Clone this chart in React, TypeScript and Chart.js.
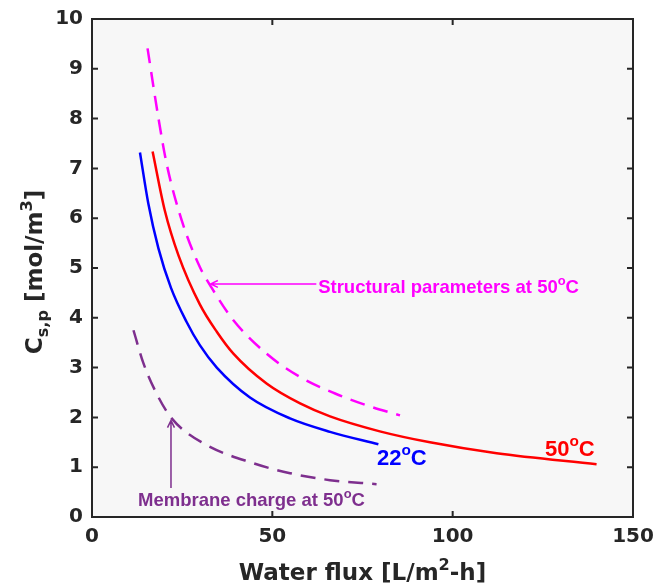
import React, { useEffect, useRef } from "react";
import { Chart, registerables } from "chart.js";
Chart.register(...registerables);

// ---- data ----
const blueX = [13.3, 15.6, 18.4, 21.9, 26.2, 29.9, 34.6, 43.8, 54.9, 66.0, 79.4];
const blueY = [7.32, 6.3, 5.4, 4.6, 3.92, 3.45, 3.0, 2.4, 1.98, 1.71, 1.46];

const redX = [16.8, 20.2, 24.0, 29.9, 34.6, 39.2, 48.4, 57.7, 66.0, 79.8, 93.7, 112.2, 139.9];
const redY = [7.34, 6.15, 5.25, 4.27, 3.72, 3.28, 2.68, 2.28, 2.02, 1.72, 1.5, 1.28, 1.06];

const magX = [15.4, 18.4, 20.7, 24.9, 29.9, 33.2, 39.2, 48.4, 57.7, 67.4, 77.1, 85.4];
const magY = [9.41, 8.02, 7.09, 5.95, 5.02, 4.6, 3.95, 3.28, 2.81, 2.48, 2.22, 2.04];

const purX = [11.5, 14.2, 17.9, 22.1, 30.9, 44.7, 54.9, 66.0, 78.9];
const purY = [3.75, 3.1, 2.48, 1.98, 1.48, 1.08, 0.88, 0.74, 0.66];

const xTicks = [0, 50, 100, 150];
const yTicks = [0, 1, 2, 3, 4, 5, 6, 7, 8, 9, 10];

const xTitle = [{ t: "Water flux [L/m" }, { t: "2", k: "sup" }, { t: "-h]" }];
const yTitle = [{ t: "C" }, { t: "s,p", k: "sub" }, { t: " [mol/m" }, { t: "3", k: "sup" }, { t: "]" }];

const AXIS = "#262626";
const BLUE = "#0000ff";
const RED = "#ff0000";
const MAGENTA = "#ff00ff";
const PURPLE = "#7e2f8e";

type Seg = { t: string; k?: string };

const ANN_FONT = "'Liberation Sans', Arial, Helvetica, sans-serif";
const AX_FONT = "'DejaVu Sans', sans-serif";

function pts(xs: number[], ys: number[]) {
  return xs.map((x, i) => ({ x, y: ys[i] }));
}

function richWidth(ctx: CanvasRenderingContext2D, segs: Seg[], size: number, weight: string, family: string) {
  let w = 0;
  for (const s of segs) {
    const sz = s.k ? size * 0.7 : size;
    ctx.font = `${weight} ${sz}px ${family}`;
    w += ctx.measureText(s.t).width;
  }
  return w;
}

function drawRich(
  ctx: CanvasRenderingContext2D,
  segs: Seg[],
  x: number,
  y: number,
  size: number,
  weight: string,
  family: string,
  color: string,
  align: string
) {
  const w = richWidth(ctx, segs, size, weight, family);
  let cx = align === "center" ? x - w / 2 : align === "right" ? x - w : x;
  ctx.fillStyle = color;
  ctx.textBaseline = "alphabetic";
  ctx.textAlign = "left";
  for (const s of segs) {
    const sz = s.k ? size * 0.7 : size;
    ctx.font = `${weight} ${sz}px ${family}`;
    const dy = s.k === "sup" ? -size * 0.45 : s.k === "sub" ? size * 0.28 : 0;
    ctx.fillText(s.t, cx, y + dy);
    cx += ctx.measureText(s.t).width;
  }
}

function deg(prefix: string, suffix: string = "C"): Seg[] {
  return [{ t: prefix }, { t: "o", k: "sup" }, { t: suffix }];
}

const annotations = [
  { segs: deg("Structural parameters at 50"), x: 62.7, y: 4.49, color: MAGENTA, size: 18.5 },
  { segs: deg("Membrane charge at 50"), x: 12.75, y: 0.22, color: PURPLE, size: 18.5 },
  { segs: deg("22"), x: 79.0, y: 1.04, color: BLUE, size: 22 },
  { segs: deg("50"), x: 125.6, y: 1.23, color: RED, size: 22 },
];

const arrows = [
  { x0: 62.2, y0: 4.68, x1: 32.9, y1: 4.68, color: MAGENTA },
  { x0: 21.9, y0: 0.58, x1: 21.9, y1: 1.94, color: PURPLE },
];

const framePlugin = {
  id: "frame",
  beforeDraw(chart: any) {
    const { ctx, chartArea: a } = chart;
    ctx.save();
    ctx.fillStyle = "#ffffff";
    ctx.fillRect(0, 0, chart.width, chart.height);
    ctx.fillStyle = "#f7f7f7";
    ctx.fillRect(a.left, a.top, a.right - a.left, a.bottom - a.top);
    ctx.restore();
  },
  afterDraw(chart: any) {
    const { ctx, chartArea: a, scales } = chart;
    const xs = scales.x;
    const ys = scales.y;
    ctx.save();
    ctx.strokeStyle = AXIS;
    ctx.lineWidth = 2;
    ctx.strokeRect(a.left, a.top, a.right - a.left, a.bottom - a.top);
    const tl = 6;
    ctx.beginPath();
    for (const v of xTicks) {
      const px = xs.getPixelForValue(v);
      ctx.moveTo(px, a.bottom);
      ctx.lineTo(px, a.bottom - tl);
      ctx.moveTo(px, a.top);
      ctx.lineTo(px, a.top + tl);
    }
    for (const v of yTicks) {
      const py = ys.getPixelForValue(v);
      ctx.moveTo(a.left, py);
      ctx.lineTo(a.left + tl, py);
      ctx.moveTo(a.right, py);
      ctx.lineTo(a.right - tl, py);
    }
    ctx.stroke();

    for (const ar of arrows) {
      const x0 = xs.getPixelForValue(ar.x0);
      const y0 = ys.getPixelForValue(ar.y0);
      const x1 = xs.getPixelForValue(ar.x1);
      const y1 = ys.getPixelForValue(ar.y1);
      ctx.strokeStyle = ar.color;
      ctx.lineWidth = 1.5;
      ctx.beginPath();
      ctx.moveTo(x0, y0);
      ctx.lineTo(x1, y1);
      const ang = Math.atan2(y1 - y0, x1 - x0);
      const hl = 8;
      const ha = 0.45;
      ctx.moveTo(x1 - hl * Math.cos(ang - ha), y1 - hl * Math.sin(ang - ha));
      ctx.lineTo(x1, y1);
      ctx.lineTo(x1 - hl * Math.cos(ang + ha), y1 - hl * Math.sin(ang + ha));
      ctx.stroke();
    }

    for (const an of annotations) {
      drawRich(
        ctx,
        an.segs,
        xs.getPixelForValue(an.x),
        ys.getPixelForValue(an.y),
        an.size,
        "bold",
        ANN_FONT,
        an.color,
        "left"
      );
    }

    drawRich(ctx, xTitle, (a.left + a.right) / 2, 580, 23, "bold", AX_FONT, AXIS, "center");
    ctx.translate(42, (a.top + a.bottom) / 2 + 4);
    ctx.rotate(-Math.PI / 2);
    drawRich(ctx, yTitle, 0, 0, 23, "bold", AX_FONT, AXIS, "center");
    ctx.restore();
  },
};

export default function App() {
  const ref = useRef<HTMLCanvasElement | null>(null);
  useEffect(() => {
    document.body.style.margin = "0";
    if (!ref.current) return;
    const lineDs = (label: string, data: any[], color: string, dashed: boolean) => ({
      label,
      data,
      borderColor: color,
      backgroundColor: color,
      borderWidth: 2.5,
      borderDash: dashed ? [15, 9] : [],
      pointRadius: 0,
      showLine: true,
      fill: false,
      cubicInterpolationMode: "monotone" as const,
    });
    const chart = new Chart(ref.current, {
      type: "scatter",
      data: {
        datasets: [
          lineDs("Structural parameters at 50°C", pts(magX, magY), MAGENTA, true),
          lineDs("Membrane charge at 50°C", pts(purX, purY), PURPLE, true),
          lineDs("22°C", pts(blueX, blueY), BLUE, false),
          lineDs("50°C", pts(redX, redY), RED, false),
        ],
      },
      plugins: [framePlugin],
      options: {
        responsive: false,
        animation: false,
        devicePixelRatio: 1,
        layout: { padding: { top: 19, right: 22, left: 0, bottom: 0 } },
        plugins: { legend: { display: false }, tooltip: { enabled: false } },
        scales: {
          x: {
            type: "linear",
            min: 0,
            max: 150,
            afterBuildTicks: (s: any) => {
              s.ticks = xTicks.map((v) => ({ value: v }));
            },
            afterFit: (s: any) => {
              s.height = 71;
              s.paddingLeft = 0;
              s.paddingRight = 0;
            },
            grid: { display: false, drawTicks: false },
            border: { display: false },
            ticks: {
              color: AXIS,
              padding: 8,
              maxRotation: 0,
              font: { family: AX_FONT, size: 20, weight: "bold" },
            },
          },
          y: {
            type: "linear",
            min: 0,
            max: 10,
            afterBuildTicks: (s: any) => {
              s.ticks = yTicks.map((v) => ({ value: v }));
            },
            afterFit: (s: any) => {
              s.width = 92;
              s.paddingTop = 0;
              s.paddingBottom = 0;
            },
            grid: { display: false, drawTicks: false },
            border: { display: false },
            ticks: {
              color: AXIS,
              padding: 9,
              font: { family: AX_FONT, size: 20, weight: "bold" },
            },
          },
        },
      },
    });
    return () => chart.destroy();
  }, []);
  return <canvas ref={ref} width={655} height={588} style={{ display: "block" }} />;
}
